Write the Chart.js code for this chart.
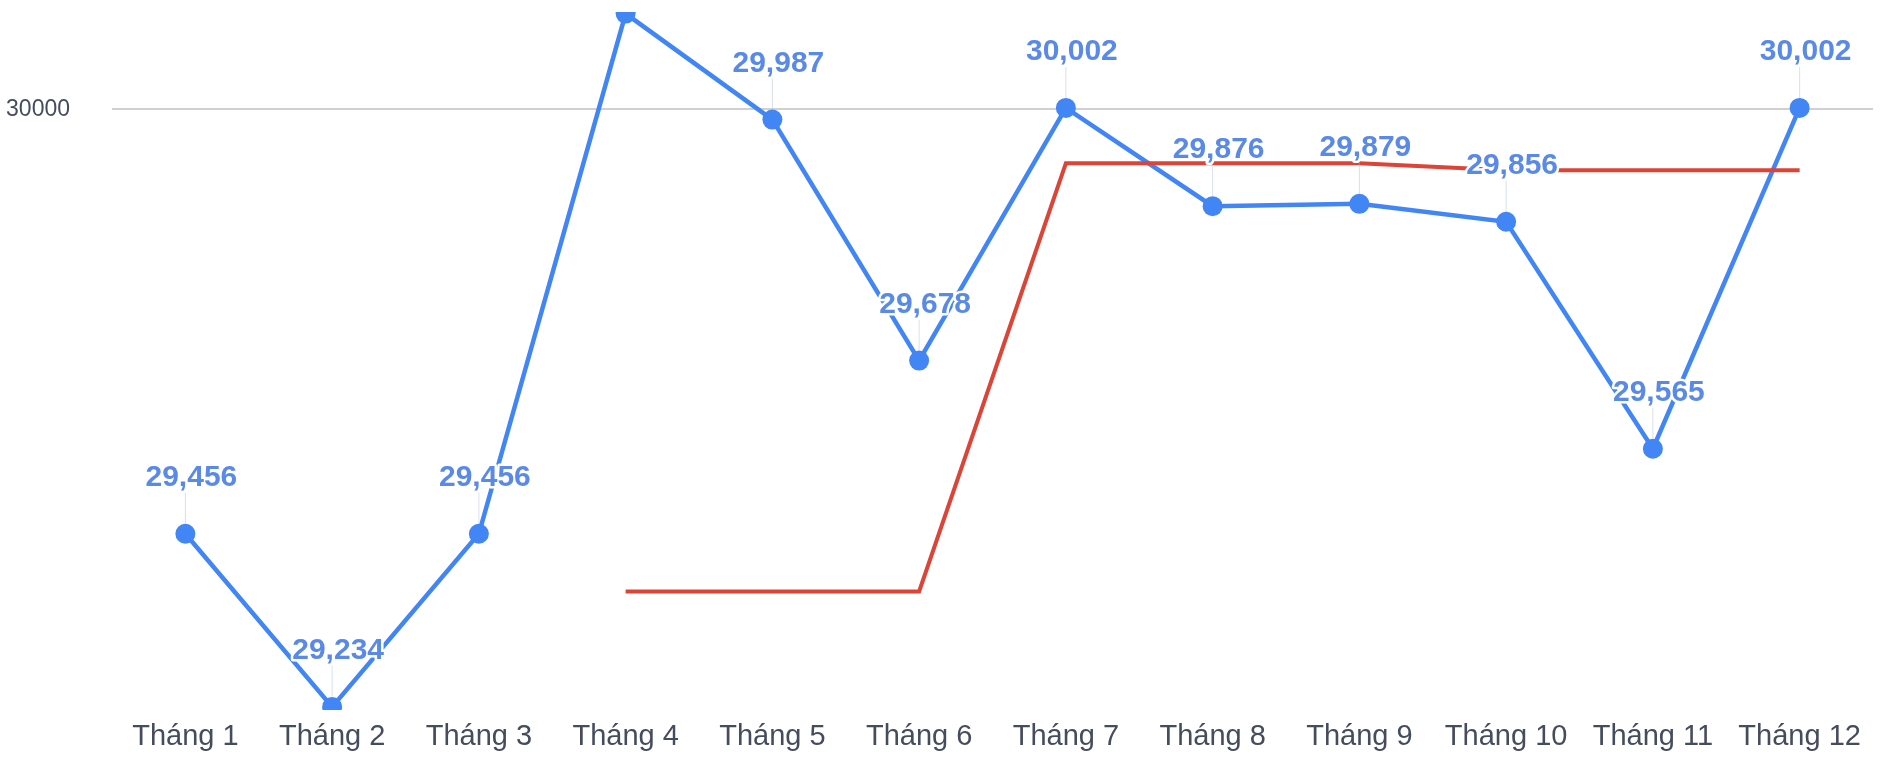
<!DOCTYPE html>
<html>
<head>
<meta charset="utf-8">
<script src="https://cdn.jsdelivr.net/npm/chart.js@4.4.1/dist/chart.umd.min.js"></script>
<style>
  html, body { margin: 0; padding: 0; background: #fff; }
  #chartbox { width: 1883px; height: 757px; }
</style>
</head>
<body>
<div id="chartbox"><canvas id="linechart"></canvas></div>
<script>
const months = ["Tháng 1", "Tháng 2", "Tháng 3", "Tháng 4", "Tháng 5", "Tháng 6",
                "Tháng 7", "Tháng 8", "Tháng 9", "Tháng 10", "Tháng 11", "Tháng 12"];
const monthly = [29456, 29234, 29456, 30123, 29987, 29678, 30002, 29876, 29879, 29856, 29565, 30002];
const average = [null, null, null, 29382, 29382, 29382, 29931, 29931, 29931, 29922, 29922, 29922];
const yTicks = [30000];

const FONT = "'Liberation Sans', Arial, sans-serif";

// value above each blue point, with a white halo and a thin leader line
const valueLabels = {
  id: "valueLabels",
  afterDatasetsDraw(chart) {
    const ctx = chart.ctx;
    const area = chart.chartArea;
    const meta = chart.getDatasetMeta(0);
    ctx.save();
    ctx.beginPath();
    ctx.rect(area.left, area.top, area.right - area.left, area.bottom - area.top);
    ctx.clip();
    ctx.font = "bold 30px " + FONT;
    ctx.textAlign = "center";
    ctx.textBaseline = "middle";
    meta.data.forEach(function (pt, i) {
      const text = monthly[i].toLocaleString("en-US");
      const x = pt.x + 6;
      const y = pt.y - 56;
      ctx.strokeStyle = "rgba(170,185,215,0.45)";
      ctx.lineWidth = 1;
      ctx.beginPath();
      ctx.moveTo(pt.x, y + 15);
      ctx.lineTo(pt.x, pt.y - 10);
      ctx.stroke();
      ctx.lineJoin = "round";
      ctx.lineWidth = 5;
      ctx.strokeStyle = "#ffffff";
      ctx.strokeText(text, x, y);
      ctx.fillStyle = "#5a8ae6";
      ctx.fillText(text, x, y);
    });
    ctx.restore();
  }
};

new Chart(document.getElementById("linechart"), {
  type: "line",
  data: {
    labels: months,
    datasets: [
      {
        label: "Doanh số",
        data: monthly,
        borderColor: "#4285f4",
        backgroundColor: "#4285f4",
        borderWidth: 4.5,
        pointRadius: 10,
        pointBorderWidth: 0,
        tension: 0,
        fill: false,
        clip: 0,
        order: 1,
      },
      {
        label: "Trung bình",
        data: average,
        borderColor: "#db4437",
        borderWidth: 4,
        pointRadius: 0,
        tension: 0,
        fill: false,
        clip: 0,
        order: 0,
      },
    ],
  },
  options: {
    responsive: true,
    maintainAspectRatio: false,
    animation: false,
    layout: { padding: { top: 12, right: 8, left: 0, bottom: 0 } },
    plugins: {
      legend: { display: false },
      tooltip: { enabled: false },
    },
    scales: {
      x: {
        offset: true,
        grid: { display: false, drawTicks: false },
        border: { display: false },
        ticks: {
          color: "#454c5c",
          font: { family: FONT, size: 29 },
          padding: 10,
          maxRotation: 0,
          autoSkip: false,
        },
        afterFit(scale) {
          scale.height = 47;
          scale.paddingLeft = 0;
          scale.paddingRight = 0;
        },
      },
      y: {
        min: 29230,
        max: 30125,
        grid: { color: "#d0d0d0", lineWidth: 2, drawTicks: false },
        border: { display: false },
        ticks: {
          color: "#454c5c",
          font: { family: FONT, size: 23 },
          padding: 42,
          callback: (v) => String(v),
        },
        afterBuildTicks(scale) { scale.ticks = yTicks.map((v) => ({ value: v })); },
        afterFit(scale) {
          scale.width = 112;
          scale.paddingTop = 0;
          scale.paddingBottom = 0;
        },
      },
    },
  },
  plugins: [valueLabels],
});
</script>
</body>
</html>
